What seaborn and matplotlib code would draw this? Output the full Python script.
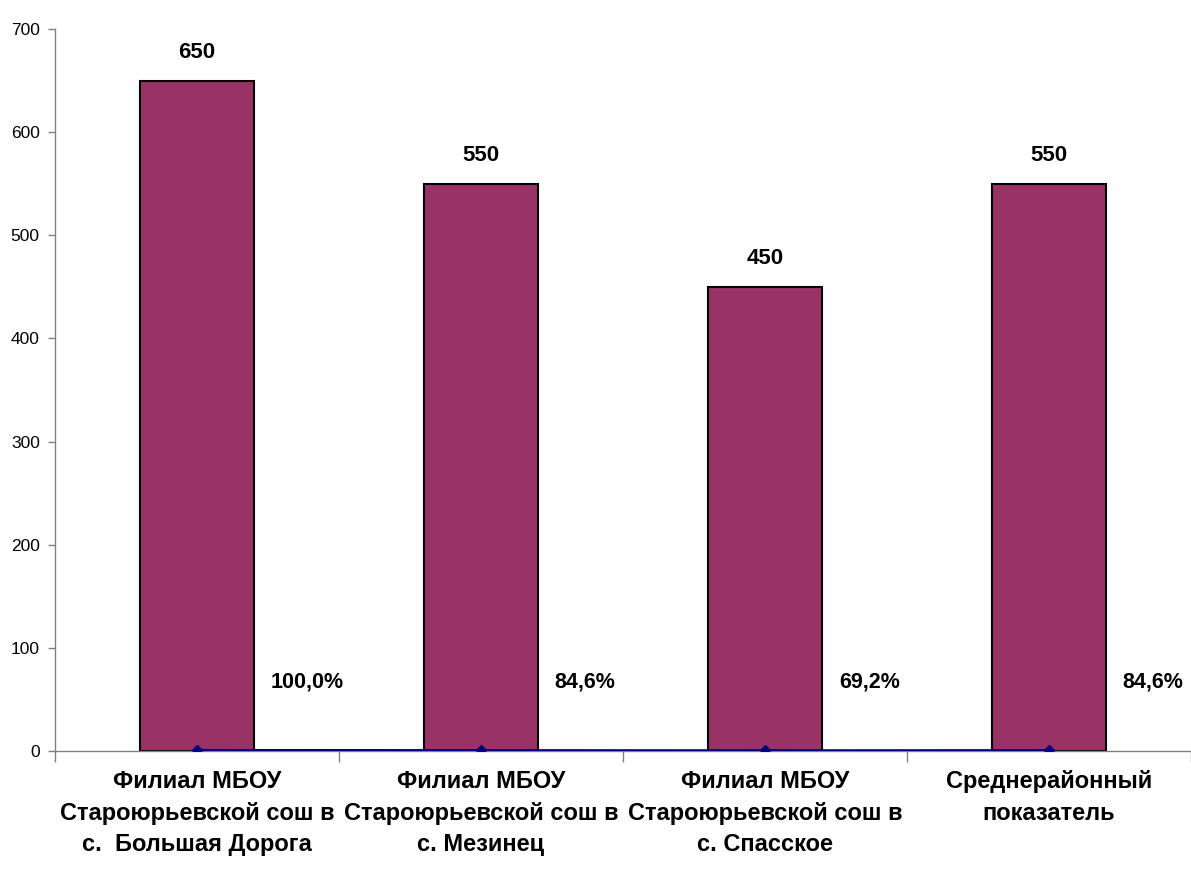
import matplotlib
matplotlib.use("Agg")
import matplotlib.pyplot as plt
import seaborn as sns
import pandas as pd
import numpy as np

# data
categories = [
    "Филиал МБОУ\nСтароюрьевской сош в\nс.  Большая Дорога",
    "Филиал МБОУ\nСтароюрьевской сош в\nс. Мезинец",
    "Филиал МБОУ\nСтароюрьевской сош в\nс. Спасское",
    "Среднерайонный\nпоказатель",
]
scores = [650, 550, 450, 550]
shares = [1.0, 0.846, 0.692, 0.846]
share_labels = ["100,0%", "84,6%", "69,2%", "84,6%"]

sns.set_theme(style="white")
plt.rcParams['font.family'] = ['Liberation Sans', 'DejaVu Sans']
plt.rcParams['text.color'] = 'black'
plt.rcParams['xtick.labelcolor'] = 'black'
plt.rcParams['ytick.labelcolor'] = 'black'

df = pd.DataFrame({"cat": categories, "score": scores, "share": shares})

fig = plt.figure(figsize=(11.91, 8.75), dpi=100)
ax = fig.add_axes([0.0462, 0.1417, 0.9538, 0.8252])

sns.barplot(data=df, x="cat", y="score", color="#993366", saturation=1,
            width=0.4, edgecolor="black", linewidth=1.5, ax=ax)
ax.plot(np.arange(len(shares)), df["share"], color="#000080", lw=1.5,
        marker="D", markersize=5, zorder=5)

for i, v in enumerate(scores):
    ax.text(i, v + 17, str(v), ha="center", va="bottom",
            fontsize=16, fontweight="bold")
for i, lab in enumerate(share_labels):
    ax.text(i + 0.26, 67, lab, ha="left", va="center",
            fontsize=15.5, fontweight="bold")

ax.set_xlim(-0.5, len(categories) - 0.5)
ax.set_ylim(0, 700)
ax.set_yticks(range(0, 701, 100))
ax.set_xlabel("")
ax.set_ylabel("")

ax.set_xticks(np.arange(-0.5, len(categories), 1.0), minor=True)
ax.tick_params(axis="x", which="major", length=0, pad=14, labelsize=17)
ax.tick_params(axis="x", which="minor", length=8, width=1, color="#808080",
               direction="out", bottom=True)
ax.tick_params(axis="y", length=5, width=1, color="#808080", direction="out",
               left=True, labelsize=12.5, pad=6)
for lab in ax.get_xticklabels():
    lab.set_fontweight("bold")
    lab.set_linespacing(1.45)

for s in ["top", "right"]:
    ax.spines[s].set_visible(False)
for s in ["left", "bottom"]:
    ax.spines[s].set_color("#808080")
    ax.spines[s].set_linewidth(1)
ax.spines["left"].set_bounds(0, 700)

fig.savefig("out.png", dpi=100)
